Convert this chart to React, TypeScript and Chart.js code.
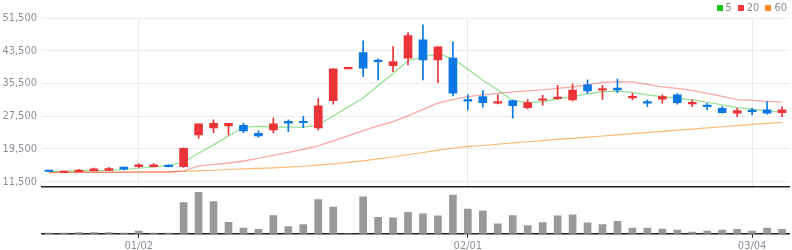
import React, { useEffect, useRef } from 'react';
import { Chart, registerables } from 'chart.js';

Chart.register(...registerables);

const DATES = [
  '12/20', '12/21', '12/22', '12/26', '12/27', '12/28', '01/02', '01/03', '01/04', '01/05',
  '01/08', '01/09', '01/10', '01/11', '01/12', '01/15', '01/16', '01/17', '01/18', '01/19',
  '01/22', '01/23', '01/24', '01/25', '01/26', '01/29', '01/30', '01/31', '02/01', '02/02',
  '02/05', '02/06', '02/07', '02/08', '02/13', '02/14', '02/15', '02/16', '02/19', '02/20',
  '02/21', '02/22', '02/23', '02/26', '02/27', '02/28', '02/29', '03/04', '03/05', '03/06',
];
const TICK_LABELS = ['01/02', '02/01', '03/04'];
const Y_TICKS = [11500, 19500, 27500, 35500, 43500, 51500];

const OPEN = [
  14100, 13750, 13950, 14200, 14250, 15050, 15150, 15150, 15550, 15170,
  22920, 24640, 25130, 25300, 23340, 24140, 26280, 26100, 24640, 31310,
  39050, 43050, 41100, 39870, 41680, 46160, 41270, 41680, 31400, 32290,
  30700, 31310, 29600, 31400, 31800, 31480, 35150, 33860, 34350, 31970,
  31000, 31650, 32700, 30500, 30090, 29450, 28230, 28870, 29040, 28380,
];
const HIGH = [
  14100, 13950, 14550, 14800, 15000, 15050, 15900, 15900, 15600, 19800,
  25610, 26590, 25790, 25790, 24000, 27070, 26590, 27500, 31900, 39070,
  39050, 45920, 41440, 44520, 47950, 49830, 44450, 45670, 32700, 33760,
  32700, 31480, 31560, 32640, 35040, 35420, 36380, 35040, 36600, 33100,
  31480, 32700, 33040, 31480, 30660, 29850, 29450, 29450, 31070, 29850,
];
const LOW = [
  14000, 13700, 13900, 14100, 14200, 14350, 14950, 15100, 15100, 15000,
  22120, 23480, 22920, 23480, 22400, 23400, 23730, 24730, 24150, 30430,
  39050, 37180, 36380, 38400, 40040, 36380, 35710, 32460, 29040, 29700,
  30500, 27010, 29290, 30200, 31620, 31230, 33100, 31620, 33170, 31480,
  29850, 30660, 30420, 29850, 29040, 28230, 27400, 27820, 28000, 27400,
];
const CLOSE = [
  14000, 13900, 14050, 14650, 14700, 14550, 15650, 15600, 15150, 19670,
  25610, 25790, 25790, 23900, 22680, 25610, 25790, 25900, 30010, 39070,
  39050, 39240, 40850, 40850, 47210, 41270, 44450, 33120, 31170, 30820,
  30850, 30090, 30820, 31730, 32140, 33860, 33680, 34100, 33930, 32200,
  30680, 32290, 30820, 30920, 29850, 28380, 28870, 28620, 28230, 29040,
];
const VOLUME = [
  7, 7, 13, 13, 13, 7, 27, 7, 7, 307,
  407, 317, 113, 57, 43, 180, 70, 90, 337, 263,
  0, 363, 163, 157, 210, 197, 177, 380, 243, 227,
  97, 180, 80, 110, 177, 187, 107, 90, 123, 57,
  57, 47, 37, 17, 27, 37, 43, 27, 57, 43,
];
const MA5 = [
  14040, 14040, 14120, 14190, 14290, 14480, 14780, 15100, 15410, 16320,
  18470, 20500, 22660, 24810, 25000, 24880, 24810, 24810, 25370, 27570,
  29770, 31970, 35020, 37940, 41020, 42000, 42740, 41570, 39000, 36270,
  33990, 31310, 30820, 31070, 31730, 32290, 32950, 33510, 33610, 33320,
  32700, 32290, 31900, 31480, 30920, 30260, 29600, 29210, 28790, 28470,
];
const MA20 = [
  13750, 13760, 13770, 13780, 13790, 13800, 13820, 13840, 13870, 14120,
  15340, 15710, 16070, 16560, 17180, 17910, 18640, 19380, 20230, 21460,
  22680, 23970, 25120, 26180, 27570, 29160, 30680, 31610, 32290, 32700,
  33070, 33440, 33690, 33930, 34300, 34670, 35160, 35770, 35960, 35890,
  35280, 34670, 34300, 33810, 33070, 32340, 31530, 31360, 31120, 30920,
];
const MA60 = [
  13800, 13810, 13830, 13840, 13850, 13860, 13870, 13890, 13900, 13990,
  14150, 14300, 14480, 14610, 14750, 14900, 15050, 15270, 15540, 15830,
  16220, 16610, 17080, 17540, 18080, 18640, 19200, 19670, 20110, 20350,
  20650, 20970, 21260, 21540, 21820, 22100, 22390, 22670, 22950, 23230,
  23510, 23800, 24080, 24360, 24640, 24920, 25200, 25490, 25770, 26010,
];

const UP = '#ec3438';
const DOWN = '#0b78e6';
const FONT = "'DejaVu Sans Condensed', 'DejaVu Sans', sans-serif";
const LABEL_COLOR = '#8a8f99';

export default function App() {
  const topRef = useRef<HTMLCanvasElement>(null);
  const botRef = useRef<HTMLCanvasElement>(null);

  useEffect(() => {
    const colors = DATES.map((_, i) => (CLOSE[i] >= OPEN[i] ? UP : DOWN));
    const isTick = (i: number) => TICK_LABELS.includes(DATES[i]);

    const top = new Chart(topRef.current!, {
      type: 'bar',
      data: {
        labels: DATES,
        datasets: [
          {
            type: 'bar',
            data: DATES.map((_, i) => [OPEN[i], CLOSE[i]]) as any,
            backgroundColor: colors,
            barThickness: 8,
            minBarLength: 1.5,
            grouped: false,
            order: 0,
          } as any,
          {
            type: 'bar',
            data: DATES.map((_, i) => [LOW[i], HIGH[i]]) as any,
            backgroundColor: colors,
            barThickness: 1,
            grouped: false,
            order: 1,
          } as any,
          {
            type: 'line',
            data: MA5,
            borderColor: 'rgba(40,190,40,0.5)',
            borderWidth: 1.2,
            pointRadius: 0,
            order: 2,
          },
          {
            type: 'line',
            data: MA20,
            borderColor: 'rgba(240,60,60,0.45)',
            borderWidth: 1.3,
            pointRadius: 0,
            order: 3,
          },
          {
            type: 'line',
            data: MA60,
            borderColor: 'rgba(245,140,30,0.6)',
            borderWidth: 1.2,
            pointRadius: 0,
            order: 4,
          },
        ],
      },
      options: {
        animation: false,
        responsive: false,
        maintainAspectRatio: false,
        layout: { padding: { top: 18, right: 2.5, bottom: 3.5, left: 0 } },
        plugins: { legend: { display: false }, tooltip: { enabled: false } },
        scales: {
          x: {
            type: 'category',
            offset: true,
            grid: {
              offset: false,
              drawTicks: false,
              color: (ctx: any) => (isTick(ctx.index) ? '#e9e9e9' : 'rgba(0,0,0,0)'),
            },
            ticks: { display: false, autoSkip: false },
            border: { display: true, color: '#222', width: 1.5 },
            afterFit: (s: any) => {
              s.height = 0;
              s.paddingLeft = 0;
              s.paddingRight = 0;
            },
          },
          y: {
            min: 10325,
            max: 51500,
            afterBuildTicks: (s: any) => {
              s.ticks = Y_TICKS.map((v) => ({ value: v }));
            },
            grid: { color: '#ebebeb', drawTicks: false },
            border: { display: false },
            ticks: {
              padding: 4.5,
              color: LABEL_COLOR,
              font: { family: FONT, size: 11 },
              callback: (v: any) => Number(v).toLocaleString('en-US'),
            },
            afterFit: (s: any) => {
              s.width = 41.5;
              s.paddingTop = 0;
              s.paddingBottom = 0;
            },
          },
        },
      } as any,
    });

    const bot = new Chart(botRef.current!, {
      type: 'bar',
      data: {
        labels: DATES,
        datasets: [
          {
            data: VOLUME,
            backgroundColor: '#999999',
            barThickness: 7,
          },
        ],
      },
      options: {
        animation: false,
        responsive: false,
        maintainAspectRatio: false,
        layout: { padding: { top: 1, right: 2.5, bottom: 0, left: 41.5 } },
        plugins: { legend: { display: false }, tooltip: { enabled: false } },
        scales: {
          x: {
            offset: true,
            grid: {
              offset: false,
              drawOnChartArea: false,
              drawTicks: true,
              tickLength: 4,
              color: (ctx: any) => (isTick(ctx.index) ? '#222' : 'rgba(0,0,0,0)'),
            },
            border: { display: true, color: '#222', width: 1.5 },
            ticks: {
              autoSkip: false,
              maxRotation: 0,
              padding: 2,
              color: LABEL_COLOR,
              font: { family: FONT, size: 11 },
              callback: (_v: any, i: number) => (isTick(i) ? DATES[i] : ''),
            },
            afterFit: (s: any) => {
              s.paddingLeft = 0;
              s.paddingRight = 0;
            },
          },
          y: { display: false, min: 0, max: 460 },
        },
      } as any,
    });

    return () => {
      top.destroy();
      bot.destroy();
    };
  }, []);

  const legend = [
    { label: '5', color: '#1fc01f' },
    { label: '20', color: '#f03c3c' },
    { label: '60', color: '#ff8c1e' },
  ];

  return (
    <div
      style={{
        position: 'fixed',
        left: 0,
        top: 0,
        width: 792,
        height: 250,
        overflow: 'hidden',
        background: '#fff',
      }}
    >
      <canvas ref={topRef} width={792} height={190} style={{ position: 'absolute', left: 0, top: 0 }} />
      <canvas ref={botRef} width={792} height={69} style={{ position: 'absolute', left: 0, top: 186 }} />
      <div
        style={{
          position: 'absolute',
          right: 5,
          top: 1,
          height: 13,
          display: 'flex',
          alignItems: 'center',
          fontFamily: FONT,
          fontSize: 11,
          color: '#8a8f99',
        }}
      >
        {legend.map((l) => (
          <span key={l.label} style={{ display: 'flex', alignItems: 'center', marginLeft: 6 }}>
            <span style={{ display: 'inline-block', width: 6, height: 6, background: l.color, marginRight: 3 }} />
            <span>{l.label}</span>
          </span>
        ))}
      </div>
    </div>
  );
}
